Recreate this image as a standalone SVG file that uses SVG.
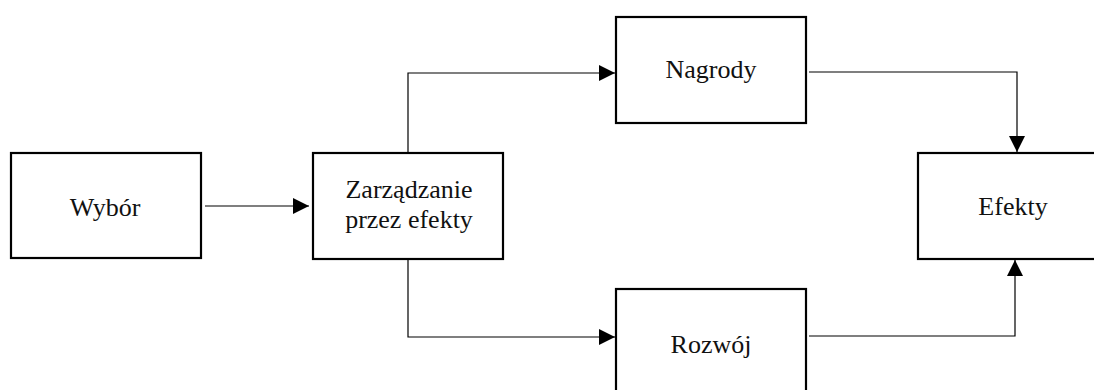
<svg xmlns="http://www.w3.org/2000/svg" width="1094" height="390" viewBox="0 0 1094 390">
  <style>
    .box { fill: #ffffff; stroke: #000000; stroke-width: 2.2; }
    .label { font-family: "Liberation Serif", "Times New Roman", serif; font-size: 26px; fill: #111111; text-anchor: middle; }
    .link { fill: none; stroke: #000000; stroke-width: 1.2; }
  </style>
  <defs>
    <marker id="arrow" viewBox="0 0 16 16" refX="16" refY="8" markerWidth="16" markerHeight="16" markerUnits="userSpaceOnUse" orient="auto">
      <path d="M0,0 L16,8 L0,16 Z" fill="#000000"/>
    </marker>
  </defs>
  <rect width="1094" height="390" fill="#ffffff"/>

  <g id="node-wybor">
    <rect class="box" x="11" y="153" width="190" height="105"/>
    <text class="label" x="105" y="216">Wybór</text>
  </g>

  <g id="node-zarzadzanie">
    <rect class="box" x="313" y="153" width="190" height="106"/>
    <text class="label" x="409" y="198">Zarządzanie</text>
    <text class="label" x="409" y="228">przez efekty</text>
  </g>

  <g id="node-nagrody">
    <rect class="box" x="616" y="17" width="190" height="106"/>
    <text class="label" x="711" y="78">Nagrody</text>
  </g>

  <g id="node-rozwoj">
    <rect class="box" x="616" y="289" width="190" height="110"/>
    <text class="label" x="711" y="353">Rozwój</text>
  </g>

  <g id="node-efekty">
    <rect class="box" x="918" y="153" width="190" height="106"/>
    <text class="label" x="1013" y="215">Efekty</text>
  </g>

  <g id="connectors">
    <path class="link" d="M205,206 H309" marker-end="url(#arrow)"/>
    <path class="link" d="M408,153 V73 H615" marker-end="url(#arrow)"/>
    <path class="link" d="M408,259 V337 H615" marker-end="url(#arrow)"/>
    <path class="link" d="M809,72 H1017 V152" marker-end="url(#arrow)"/>
    <path class="link" d="M809,336 H1015 V260" marker-end="url(#arrow)"/>
  </g>
</svg>
